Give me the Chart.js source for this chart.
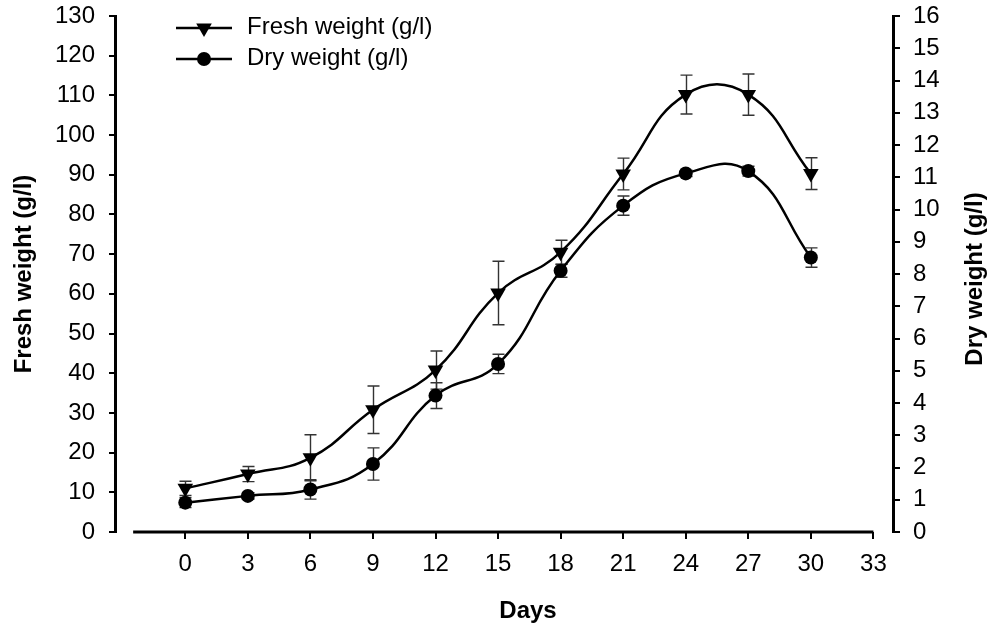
<!DOCTYPE html>
<html>
<head>
<meta charset="utf-8">
<title>Fresh and dry weight</title>
<script src="https://cdn.jsdelivr.net/npm/chart.js@4.4.0/dist/chart.umd.min.js"></script>
<style>
  body { margin: 0; background: #fff; }
  canvas { display: block; }
</style>
</head>
<body>
<canvas id="growthChart" width="989" height="628"></canvas>
<script>
const days = [0, 3, 6, 9, 12, 15, 18, 21, 24, 27, 30];
const freshWeight = [11, 14.6, 18.7, 30.8, 40.8, 60.2, 70.5, 90.2, 110.2, 110.2, 90.3];
const freshErr = [1.8, 1.9, 5.8, 6, 4.8, 8, 3, 4, 4.9, 5.2, 4];
const dryWeight = [0.91, 1.12, 1.32, 2.11, 4.23, 5.21, 8.1, 10.12, 11.12, 11.19, 8.51];
const dryErr = [0.15, 0.1, 0.3, 0.5, 0.4, 0.3, 0.2, 0.3, 0.1, 0.15, 0.3];

const dayTicks = [0, 3, 6, 9, 12, 15, 18, 21, 24, 27, 30, 33];
const freshTicks = [0, 10, 20, 30, 40, 50, 60, 70, 80, 90, 100, 110, 120, 130];
const dryTicks = [0, 1, 2, 3, 4, 5, 6, 7, 8, 9, 10, 11, 12, 13, 14, 15, 16];

const FONT = "'Liberation Sans', Arial, sans-serif";
const TRI_R = 9;
const DOT_R = 7;
const ctx = document.getElementById("growthChart").getContext("2d");

function drawMarker(c, style, x, y) {
  c.beginPath();
  if (style === "triangle") {
    c.moveTo(x, y + TRI_R);
    c.lineTo(x - TRI_R * 0.866, y - TRI_R / 2);
    c.lineTo(x + TRI_R * 0.866, y - TRI_R / 2);
    c.closePath();
  } else {
    c.arc(x, y, DOT_R, 0, Math.PI * 2);
  }
  c.fill();
}

// vertical error bars with caps, behind the lines
const errorBars = {
  id: "errorBars",
  beforeDatasetsDraw(chart) {
    const c = chart.ctx;
    const xs = chart.scales.x;
    c.save();
    c.strokeStyle = "#333";
    c.lineWidth = 1.4;
    chart.data.datasets.forEach(ds => {
      const ys = chart.scales[ds.yAxisID];
      ds.data.forEach((p, i) => {
        const px = Math.round(xs.getPixelForValue(p.x)) + 0.5;
        const top = ys.getPixelForValue(p.y + ds.errors[i]);
        const bot = ys.getPixelForValue(p.y - ds.errors[i]);
        c.beginPath();
        c.moveTo(px, top); c.lineTo(px, bot);
        c.moveTo(px - 6, top); c.lineTo(px + 6, top);
        c.moveTo(px - 6, bot); c.lineTo(px + 6, bot);
        c.stroke();
      });
    });
    c.restore();
  }
};

// x axis line, axis titles and the legend box
const decorations = {
  id: "decorations",
  afterDraw(chart) {
    const c = chart.ctx;
    const area = chart.chartArea;
    const xs = chart.scales.x;
    c.save();

    c.strokeStyle = "#000";
    c.lineWidth = 3;
    c.beginPath();
    c.moveTo(xs.getPixelForValue(-2.5), area.bottom);
    c.lineTo(xs.getPixelForValue(33), area.bottom);
    c.stroke();

    c.fillStyle = "#000";
    c.font = "bold 24px " + FONT;
    c.textAlign = "center";
    c.textBaseline = "middle";
    const midY = (area.top + area.bottom) / 2;
    c.fillText("Days", (area.left + area.right) / 2 + 24, 611);
    [[24, midY, "Fresh weight (g/l)"], [975, midY + 5, "Dry weight (g/l)"]].forEach(([tx, ty, label]) => {
      c.save();
      c.translate(tx, ty);
      c.rotate(-Math.PI / 2);
      c.fillText(label, 0, 0);
      c.restore();
    });

    c.font = "24px " + FONT;
    c.textAlign = "left";
    chart.data.datasets.forEach((ds, i) => {
      const ly = 28 + i * 31;
      c.lineWidth = 2.5;
      c.beginPath();
      c.moveTo(176, ly);
      c.lineTo(232, ly);
      c.stroke();
      drawMarker(c, ds.pointStyle, 204, ly);
      c.fillText(ds.label, 247, ly - 1);
    });
    c.restore();
  }
};

const tickFont = { family: FONT, size: 24 };

function fitVertical(width) {
  return s => {
    s.width = width;
    s.paddingTop = 0;
    s.paddingBottom = 0;
  };
}

new Chart(ctx, {
  type: "line",
  data: {
    datasets: [
      {
        label: "Fresh weight (g/l)",
        data: days.map((d, i) => ({ x: d, y: freshWeight[i] })),
        errors: freshErr,
        yAxisID: "yFresh",
        borderColor: "#000",
        backgroundColor: "#000",
        borderWidth: 2.5,
        pointStyle: "triangle",
        rotation: 180,
        pointRadius: TRI_R,
        pointBorderWidth: 0,
        tension: 0.45
      },
      {
        label: "Dry weight (g/l)",
        data: days.map((d, i) => ({ x: d, y: dryWeight[i] })),
        errors: dryErr,
        yAxisID: "yDry",
        borderColor: "#000",
        backgroundColor: "#000",
        borderWidth: 2.5,
        pointStyle: "circle",
        pointRadius: DOT_R,
        pointBorderWidth: 0,
        tension: 0.45
      }
    ]
  },
  options: {
    responsive: false,
    animation: false,
    layout: { padding: { top: 16, left: 0, right: 0, bottom: 0 } },
    plugins: {
      legend: { display: false },
      tooltip: { enabled: false }
    },
    scales: {
      x: {
        type: "linear",
        min: -3.37,
        max: 33.94,
        afterBuildTicks: s => { s.ticks = dayTicks.map(v => ({ value: v })); },
        afterFit: s => { s.height = 96; s.paddingLeft = 0; s.paddingRight = 0; },
        border: { display: false },
        grid: { drawOnChartArea: false, drawTicks: true, tickLength: 7, color: "#000", lineWidth: 2 },
        ticks: { color: "#000", font: tickFont, padding: 11, maxRotation: 0, autoSkip: false }
      },
      yFresh: {
        type: "linear",
        position: "left",
        min: 0,
        max: 130,
        afterBuildTicks: s => { s.ticks = freshTicks.map(v => ({ value: v })); },
        afterFit: fitVertical(115),
        border: { display: true, color: "#000", width: 3 },
        grid: { drawOnChartArea: false, drawTicks: true, tickLength: 6, color: "#000", lineWidth: 2 },
        ticks: { color: "#000", font: tickFont, padding: 14, autoSkip: false }
      },
      yDry: {
        type: "linear",
        position: "right",
        min: 0,
        max: 16,
        afterBuildTicks: s => { s.ticks = dryTicks.map(v => ({ value: v })); },
        afterFit: fitVertical(96),
        border: { display: true, color: "#000", width: 3 },
        grid: { drawOnChartArea: false, drawTicks: true, tickLength: 7, color: "#000", lineWidth: 2 },
        ticks: { color: "#000", font: tickFont, padding: 13, autoSkip: false }
      }
    }
  },
  plugins: [errorBars, decorations]
});
</script>
</body>
</html>
